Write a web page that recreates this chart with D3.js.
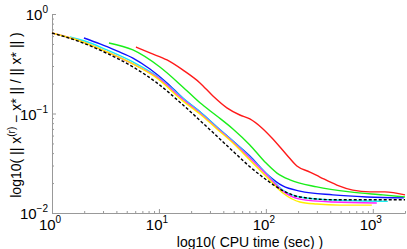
<!DOCTYPE html>
<html>
<head>
<meta charset="utf-8">
<script src="https://cdn.jsdelivr.net/npm/d3@7"></script>
<style>
  body { margin: 0; background: #fff; }
  text { font-family: "Liberation Sans", Arial, Helvetica, sans-serif; fill: #000; }
</style>
</head>
<body>
<svg id="chart" width="407" height="249"></svg>
<script>
// values (time in sec, relative error)
var tRed = [6.10, 8.24, 11.9, 16.7, 24.2, 32.0, 43.2, 57.1, 70.8, 91.8, 114, 157, 195, 258, 320, 461, 650, 938, 1294, 2000];
var eRed = [0.466, 0.406, 0.345, 0.274, 0.203, 0.150, 0.114, 0.0966, 0.0881, 0.0715, 0.0567, 0.0383, 0.0297, 0.0258, 0.0230, 0.0191, 0.0170, 0.0163, 0.0163, 0.0152];

var tGreen = [3.41, 5.71, 10.2, 16.7, 24.2, 34.8, 49.2, 70.8, 97.9, 127, 168, 300, 610, 1239, 2000];
var eGreen = [0.511, 0.435, 0.293, 0.185, 0.128, 0.0944, 0.0699, 0.0483, 0.0326, 0.0252, 0.0215, 0.0183, 0.0163, 0.0152, 0.0145];

var tBlue = [1.99, 2.81, 4.05, 5.71, 8.24, 11.9, 16.7, 24.2, 34.8, 49.2, 70.8, 102, 144, 208, 423, 879, 1950];
var eBlue = [0.574, 0.500, 0.425, 0.361, 0.280, 0.203, 0.143, 0.104, 0.0732, 0.0529, 0.0374, 0.0247, 0.0187, 0.0166, 0.0152, 0.0145, 0.0142];

var tCyan = [1.47, 2.03, 3.27, 5.71, 9.58, 16.7, 24.2, 34.8, 49.2, 70.8, 102, 144, 208, 423, 1380];
var eCyan = [0.587, 0.535, 0.435, 0.330, 0.238, 0.143, 0.104, 0.0732, 0.0529, 0.0366, 0.0247, 0.0170, 0.0145, 0.0135, 0.0131];

var tMagenta = [1, 1.83, 3.27, 5.71, 9.58, 16.7, 24.2, 34.8, 49.2, 70.8, 102, 144, 208, 423, 1090];
var eMagenta = [0.644, 0.535, 0.415, 0.315, 0.233, 0.139, 0.101, 0.0715, 0.0517, 0.0357, 0.0241, 0.0166, 0.0138, 0.0129, 0.0126];

var tYellow = [1, 1.83, 3.27, 5.71, 9.58, 16.7, 24.2, 34.8, 49.2, 70.8, 102, 144, 208, 300, 492, 979];
var eYellow = [0.644, 0.535, 0.415, 0.315, 0.227, 0.134, 0.0989, 0.0699, 0.0505, 0.0341, 0.0230, 0.0159, 0.0129, 0.0123, 0.0120, 0.0120];

var tBlack = [1, 1.83, 3.27, 5.71, 9.58, 15.7, 24.2, 33.4, 49.2, 70.8, 102, 144, 208, 423, 938, 2000];
var eBlack = [0.644, 0.525, 0.402, 0.294, 0.203, 0.130, 0.0851, 0.0617, 0.0418, 0.0292, 0.0214, 0.0168, 0.0145, 0.0136, 0.0136, 0.0136];

var xMajor = [1, 10, 100, 1000];
var xExp = ["0", "1", "2", "3"];
var yMajor = [1, 0.1, 0.01];
var yExp = ["0", "\u22121", "\u22122"];

// drawing order, dashed black goes last so it sits on top
var series = [
  { t: tRed, e: eRed, color: "#ff1a1a" },
  { t: tGreen, e: eGreen, color: "#1aee1a" },
  { t: tBlue, e: eBlue, color: "#1010ff" },
  { t: tCyan, e: eCyan, color: "#19f0f0" },
  { t: tMagenta, e: eMagenta, color: "#ff22ff" },
  { t: tYellow, e: eYellow, color: "#ffee00" },
  { t: tBlack, e: eBlack, color: "#000", dash: "3,2" }
];

var svg = d3.select("#chart");

var x = d3.scaleLog().domain([1, 2000]).range([52, 405]);
var y = d3.scaleLog().domain([0.01, 1]).range([213, 14]);

// minor ticks 2..9 in every decade
var xMinor = [];
[1, 10, 100, 1000].forEach(function(d) {
  for (var k = 2; k <= 9; k++) if (d * k <= 2000) xMinor.push(d * k);
});
var yMinor = [];
[0.01, 0.1].forEach(function(d) {
  for (var k = 2; k <= 9; k++) yMinor.push(d * k);
});

var axisColor = "#999";

function styleAxis(g) {
  g.select(".domain").attr("stroke", axisColor).attr("stroke-width", 1);
  g.selectAll(".tick line").attr("stroke", axisColor);
  g.selectAll(".tick text").remove();
}

svg.append("g")
  .attr("transform", "translate(0,213)")
  .call(d3.axisBottom(x).tickValues(xMinor).tickSize(-2).tickSizeOuter(0).tickFormat(""))
  .call(styleAxis);
svg.append("g")
  .attr("transform", "translate(0,213)")
  .call(d3.axisBottom(x).tickValues(xMajor).tickSize(-4).tickSizeOuter(0).tickFormat(""))
  .call(styleAxis);

svg.append("g")
  .attr("transform", "translate(52,0)")
  .call(d3.axisLeft(y).tickValues(yMinor).tickSize(-2).tickSizeOuter(0).tickFormat(""))
  .call(styleAxis);
svg.append("g")
  .attr("transform", "translate(52,0)")
  .call(d3.axisLeft(y).tickValues(yMajor).tickSize(-4).tickSizeOuter(0).tickFormat(""))
  .call(styleAxis);

// tick labels as 10 with a superscript
xMajor.forEach(function(v, i) {
  var tx = svg.append("text")
    .attr("x", x(v) - 2)
    .attr("y", 230)
    .attr("text-anchor", "middle")
    .style("font-size", "15px");
  tx.append("tspan").text("10");
  tx.append("tspan").attr("dy", -7).style("font-size", "10px").text(xExp[i]);
});

yMajor.forEach(function(v, i) {
  var ty = svg.append("text")
    .attr("x", 48)
    .attr("y", y(v) + 6)
    .attr("text-anchor", "end")
    .style("font-size", "15px");
  ty.append("tspan").text("10");
  ty.append("tspan").attr("dy", -7).style("font-size", "10px").text(yExp[i]);
});

// axis titles
svg.append("text")
  .attr("x", 250)
  .attr("y", 247)
  .attr("text-anchor", "middle")
  .style("font-size", "14px")
  .text("log10( CPU time (sec) )");

var yt = svg.append("text")
  .attr("transform", "translate(21,115) rotate(-90)")
  .attr("text-anchor", "middle")
  .style("font-size", "14px");
yt.append("tspan").text("log10( || x");
yt.append("tspan").attr("dy", -6).style("font-size", "10px").text("(r)");
yt.append("tspan").attr("dy", 6).text(" \u2212 x* || / || x* || )");

// the curves
var line = d3.line()
  .x(function(d) { return x(d[0]); })
  .y(function(d) { return y(d[1]); })
  .curve(d3.curveMonotoneX);

series.forEach(function(s) {
  var pts = s.t.map(function(t, i) { return [t, s.e[i]]; });
  svg.append("path")
    .datum(pts)
    .attr("fill", "none")
    .attr("stroke", s.color)
    .attr("stroke-width", 1.4)
    .attr("stroke-dasharray", s.dash || null)
    .attr("d", line);
});
</script>
</body>
</html>
